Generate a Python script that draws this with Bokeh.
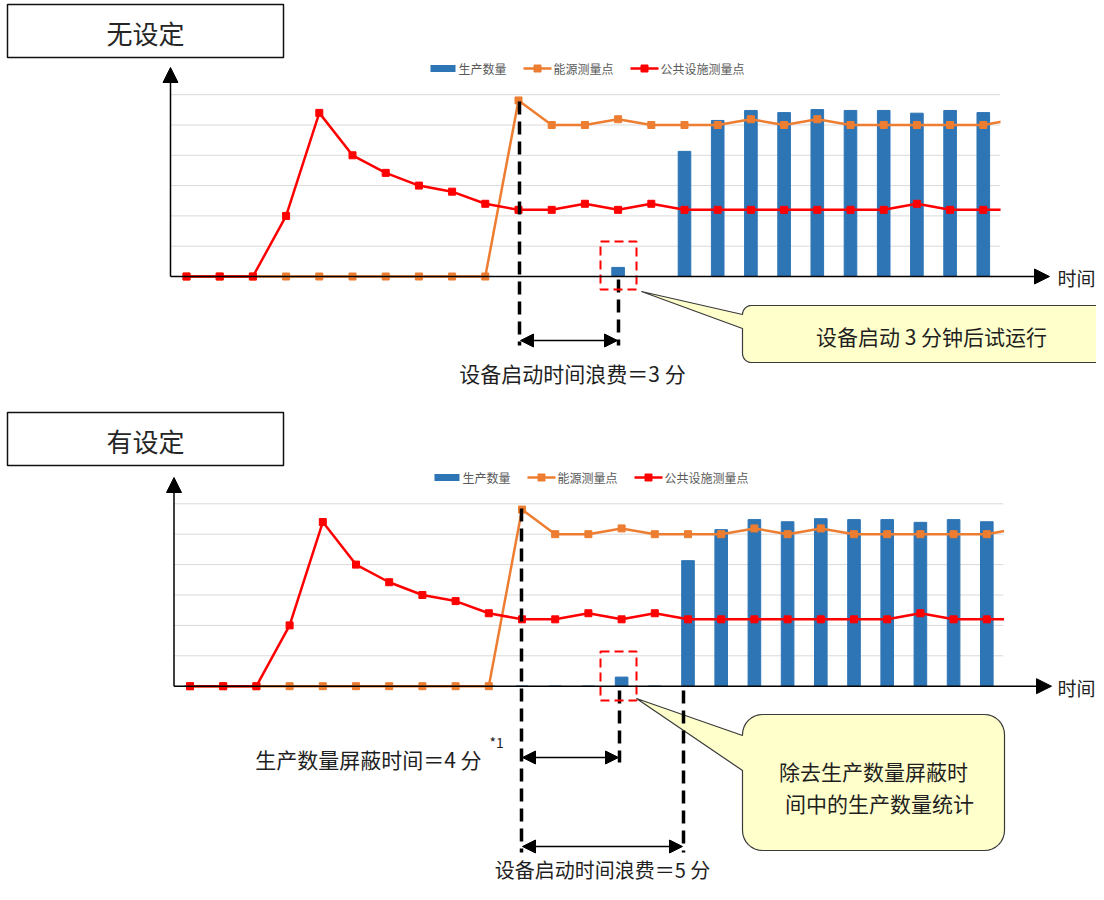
import math
from bokeh.plotting import figure
from bokeh.layouts import column
from bokeh.models import Range1d, Arrow, NormalHead
from bokeh.core.properties import value
from bokeh.embed import file_html
from bokeh.resources import INLINE

# ---------------- data ----------------
time_index = list(range(26))           # index 25 lies just beyond the plot edge
production = [0, 0, 0, 0, 0, 0, 0, 0, 0, 0, 0, 0, 0,
              0.3, 0, 4.13, 5.15, 5.48, 5.41, 5.51, 5.48, 5.48, 5.39, 5.48, 5.41]
energy = [0, 0, 0, 0, 0, 0, 0, 0, 0, 0,
          5.81, 5.0, 5.0, 5.19, 5.0, 5.0, 5.0, 5.19, 5.0, 5.19,
          5.0, 5.0, 5.0, 5.0, 5.0, 5.2]
utility = [0, 0, 0, 2.0, 5.4, 4.0, 3.42, 3.0, 2.8, 2.4,
           2.2, 2.2, 2.4, 2.2, 2.4, 2.2, 2.2, 2.2, 2.2, 2.2,
           2.2, 2.2, 2.4, 2.2, 2.2, 2.2]
grid_values = [1, 2, 3, 4, 5, 6]
legend_labels = ["生产数量", "能源测量点", "公共设施测量点"]
axis_label = "时间"

FONT = "Noto Sans CJK SC"
BLUE = "#2E75B6"
ORANGE = "#ED7D31"
RED = "#FF0000"
TXT = "#1f1f1f"

N = len(production)
W = 1096


def build_panel(X0, DX, Y0, DY, top, h, axis_x, yarrow_tip, xarrow_tip, title, title_box,
                legend_dx, legend_y, notes):
    fx = lambda X: (X - X0) / DX
    fy = lambda Y: (Y0 - Y) / DY
    p = figure(width=W, height=h,
               x_range=Range1d(fx(0), fx(W)), y_range=Range1d(fy(top + h), fy(top)),
               output_backend="svg", toolbar_location=None, min_border=0,
               x_axis_location=None, y_axis_location=None, outline_line_color=None)
    p.grid.visible = False
    p.background_fill_color = "white"

    def txt(X, Y, s, size, align="center", color=TXT):
        p.text(x=[fx(X)], y=[fy(Y)], text=[s], text_font=value(FONT),
               text_font_size=value(size), text_align=align, text_baseline="middle",
               text_color=color)

    # gridlines
    p.segment(x0=[fx(axis_x)] * len(grid_values), x1=[N - 0.5] * len(grid_values),
              y0=grid_values, y1=grid_values, line_color="#d9d9d9", line_width=1)
    # series
    p.vbar(x=time_index[:N], top=production, width=0.38, bottom=0, fill_color=BLUE,
           line_color=BLUE)
    p.line(x=time_index, y=energy, line_color=ORANGE, line_width=2.5)
    p.scatter(x=time_index[:N], y=energy[:N], marker="square", size=7, fill_color=ORANGE,
              line_color=ORANGE)
    p.line(x=time_index, y=utility, line_color=RED, line_width=2.5)
    p.scatter(x=time_index[:N], y=utility[:N], marker="square", size=7, fill_color=RED,
              line_color=RED)
    # mask the part of the lines beyond the plot edge
    p.quad(left=[N - 0.48], right=[fx(1032)], top=[fy(Y0 - 6.6 * DY)], bottom=[fy(Y0 - 3)],
           fill_color="white", line_color=None)

    # legend
    ly = fy(legend_y)
    p.quad(left=[fx(430 + legend_dx)], right=[fx(455 + legend_dx)],
           top=[fy(legend_y - 3.5)], bottom=[fy(legend_y + 3.5)],
           fill_color=BLUE, line_color=None)
    p.line(x=[fx(523 + legend_dx), fx(551 + legend_dx)], y=[ly, ly], line_color=ORANGE,
           line_width=2.5)
    p.scatter(x=[fx(537 + legend_dx)], y=[ly], marker="square", size=7, color=ORANGE)
    p.line(x=[fx(630 + legend_dx), fx(658 + legend_dx)], y=[ly, ly], line_color=RED,
           line_width=2.5)
    p.scatter(x=[fx(644 + legend_dx)], y=[ly], marker="square", size=7, color=RED)
    for X, s in zip([458, 553, 660], legend_labels):
        txt(X + legend_dx, legend_y, s, "12px", align="left", color="#595959")

    # title box
    (tx1, ty1, tx2, ty2) = title_box
    p.quad(left=[fx(tx1)], right=[fx(tx2)], top=[fy(ty1)], bottom=[fy(ty2)],
           fill_color="white", line_color="#111111", line_width=1.5)
    txt((tx1 + tx2) / 2, (ty1 + ty2) / 2 + 1, title, "26px", color="#262626")

    # callouts
    for (x1, y1, x2, y2, r, b1, b2, tip) in notes["callouts"]:
        pts = []

        def arc(cx, cy, a0, a1):
            for k in range(9):
                a = math.radians(a0 + (a1 - a0) * k / 8)
                pts.append((cx + r * math.cos(a), cy + r * math.sin(a)))
        arc(x2 - r, y1 + r, -90, 0)
        arc(x2 - r, y2 - r, 0, 90)
        arc(x1 + r, y2 - r, 90, 180)
        pts.append((x1, b2))
        pts.append(tip)
        pts.append((x1, b1))
        arc(x1 + r, y1 + r, 180, 270)
        p.patch(x=[fx(a) for a, b in pts], y=[fy(b) for a, b in pts],
                fill_color="#FFFFCC", line_color="#3a3a3a", line_width=1.2)

    # dashed verticals
    for (X, Ya, Yb) in notes["dashed"]:
        p.line(x=[fx(X), fx(X)], y=[fy(Ya), fy(Yb)], line_color="black", line_width=3.5,
               line_dash="13 7")
    # red dashed box
    (bx1, by1, bx2, by2) = notes["redbox"]
    p.quad(left=[fx(bx1)], right=[fx(bx2)], top=[fy(by1)], bottom=[fy(by2)],
           fill_color=None, line_color=RED, line_width=2, line_dash="9 5")

    # texts
    txt(1057, Y0 + 1, axis_label, "19px", align="left")
    for (X, Y, s, size, align) in notes["texts"]:
        txt(X, Y, s, size, align)

    # axes with arrowheads
    p.add_layout(Arrow(end=NormalHead(size=15, fill_color="black", line_color="black"),
                       x_start=fx(axis_x), y_start=fy(Y0), x_end=fx(axis_x), y_end=fy(yarrow_tip),
                       line_width=1.5, line_color="black"))
    p.add_layout(Arrow(end=NormalHead(size=15, fill_color="black", line_color="black"),
                       x_start=fx(axis_x), y_start=fy(Y0), x_end=fx(xarrow_tip), y_end=fy(Y0),
                       line_width=1.5, line_color="black"))
    # double arrows
    for (Xa, Xb, Y) in notes["arrows"]:
        p.add_layout(Arrow(start=NormalHead(size=13, fill_color="black", line_color="black"),
                           end=NormalHead(size=13, fill_color="black", line_color="black"),
                           x_start=fx(Xa), y_start=fy(Y), x_end=fx(Xb), y_end=fy(Y),
                           line_width=1.5, line_color="black"))
    return p


top_notes = {
    "callouts": [(742, 305, 1112, 362, 9, 314, 328, (641, 291))],
    "dashed": [(519, 101, 345), (618, 279, 345)],
    "redbox": (600, 241, 636, 289),
    "arrows": [(520, 617, 340)],
    "texts": [(931, 335, "设备启动 3 分钟后试运行", "21px", "center"),
              (572, 372, "设备启动时间浪费＝3 分", "21px", "center")],
}
bottom_notes = {
    "callouts": [(742, 714, 1004, 850, 20, 735, 770, (636, 698))],
    "dashed": [(521, 508, 852), (619, 690, 762), (683, 690, 852)],
    "redbox": (600, 651, 636, 700),
    "arrows": [(522, 618, 757), (522, 682, 846)],
    "texts": [(481, 758, "生产数量屏蔽时间＝4 分", "21px", "right"),
              (489, 741, "*1", "14px", "left"),
              (873, 770, "除去生产数量屏蔽时", "21px", "center"),
              (879, 802, "间中的生产数量统计", "21px", "center"),
              (602, 869, "设备启动时间浪费＝5 分", "20px", "center")],
}

p1 = build_panel(186, 33.2, 276, 30.3, 0, 400, 170, 67, 1049, "无设定", (7, 4, 283, 57),
                 0, 68, top_notes)
p2 = build_panel(189.5, 33.2, 685.7, 30.4, 400, 484, 173.5, 477, 1051, "有设定",
                 (7, 412, 283, 465), 4, 477, bottom_notes)

layout = column(p1, p2, spacing=0)
open("out.html", "w").write(file_html(layout, INLINE))
